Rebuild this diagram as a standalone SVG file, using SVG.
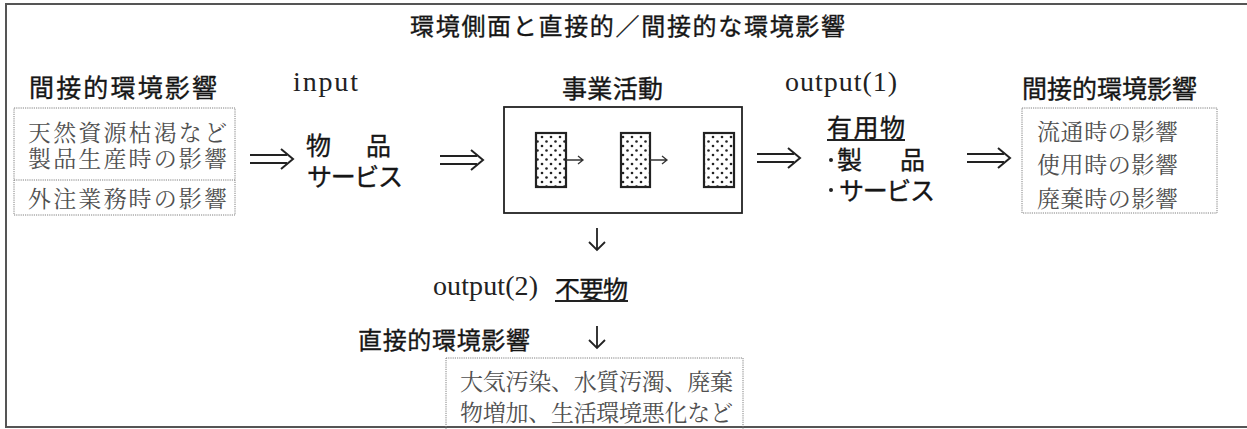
<svg xmlns="http://www.w3.org/2000/svg" width="1247" height="429" viewBox="0 0 1247 429">
<style>
.g{font-family:"Noto Sans CJK JP","Noto Sans CJK SC",sans-serif;fill:#161616;stroke:#161616;stroke-width:0.35;dominant-baseline:central}
.m{font-family:"Noto Serif CJK JP","Noto Sans CJK JP",serif;fill:#505050;dominant-baseline:central}
.s{font-family:"Liberation Serif",serif;fill:#222}
.dot{fill:none;stroke:#808080;stroke-width:1;stroke-dasharray:1.2 1}
.ln{fill:none;stroke:#222;stroke-width:1.8}
.thin{fill:none;stroke:#333;stroke-width:1.3}
.cell{fill:url(#dots);stroke:#222;stroke-width:2.2}
</style>
<defs>
<pattern id="dots" width="9" height="9" patternUnits="userSpaceOnUse">
<rect width="9" height="9" fill="#fff"/>
<circle cx="2" cy="2" r="1.3" fill="#222"/>
<circle cx="6.5" cy="6.5" r="1.3" fill="#222"/>
</pattern>
<path id="dbl" d="M0,-4 H37 M0,4 H37 M31,-10 L43,0 L31,10" fill="none" stroke="#222" stroke-width="2"/>
<path id="down" d="M0,0 V22 M-8,14 L0,22 L8,14" fill="none" stroke="#222" stroke-width="1.8"/>
</defs>
<rect x="6" y="4" width="1260" height="423" fill="none" stroke="#555" stroke-width="2"/>
<g id="title"><text class="g" x="410" y="24" font-size="24" textLength="435" lengthAdjust="spacing">環境側面と直接的／間接的な環境影響</text></g>
<g id="indirect-left">
<text class="g" x="29" y="86" font-size="25" textLength="188" lengthAdjust="spacing">間接的環境影響</text>
<rect class="dot" x="14" y="108" width="221" height="107"/>
<line class="dot" x1="14" y1="180" x2="235" y2="180"/>
<text class="m" x="28" y="131" font-size="23" textLength="199" lengthAdjust="spacing">天然資源枯渇など</text>
<text class="m" x="28" y="157" font-size="23" textLength="199" lengthAdjust="spacing">製品生産時の影響</text>
<text class="m" x="28" y="197" font-size="23" textLength="199" lengthAdjust="spacing">外注業務時の影響</text>
</g>
<g id="input">
<text class="s" x="293" y="91" font-size="28" textLength="65" lengthAdjust="spacing">input</text>
<text class="g" y="144" font-size="25"><tspan x="306">物</tspan><tspan x="366">品</tspan></text>
<text class="g" x="307" y="175" font-size="25" textLength="96" lengthAdjust="spacing">サービス</text>
</g>
<g id="business">
<text class="g" x="562" y="87" font-size="25" textLength="101" lengthAdjust="spacing">事業活動</text>
<rect x="504" y="107" width="238" height="106" fill="none" stroke="#222" stroke-width="1.8"/>
<rect class="cell" x="536" y="133" width="30" height="54"/>
<rect class="cell" x="621" y="133" width="29" height="54"/>
<rect class="cell" x="704" y="133" width="30" height="54"/>
</g>
<g id="output1">
<text class="s" x="785" y="91" font-size="28" textLength="112" lengthAdjust="spacing">output(1)</text>
<text class="g" x="827" y="126" font-size="25" textLength="78" lengthAdjust="spacing">有用物</text>
<line class="ln" x1="827" y1="140" x2="905" y2="140"/>
<circle cx="831" cy="160" r="2" fill="#222"/>
<text class="g" y="158" font-size="25"><tspan x="837">製</tspan><tspan x="900">品</tspan></text>
<circle cx="831" cy="190" r="2" fill="#222"/>
<text class="g" x="839" y="189" font-size="25" textLength="96" lengthAdjust="spacing">サービス</text>
</g>
<g id="indirect-right">
<text class="g" x="1022" y="87" font-size="25" textLength="175" lengthAdjust="spacing">間接的環境影響</text>
<rect class="dot" x="1022" y="108" width="195" height="105"/>
<text class="m" x="1037" y="130" font-size="23" textLength="141" lengthAdjust="spacing">流通時の影響</text>
<text class="m" x="1037" y="163" font-size="23" textLength="141" lengthAdjust="spacing">使用時の影響</text>
<text class="m" x="1037" y="197" font-size="23" textLength="141" lengthAdjust="spacing">廃棄時の影響</text>
</g>
<g id="output2">
<text class="s" x="433" y="295" font-size="28" textLength="105" lengthAdjust="spacing">output(2)</text>
<text class="g" x="555" y="288" font-size="25" textLength="73" lengthAdjust="spacing">不要物</text>
<line class="ln" x1="555" y1="301" x2="628" y2="301"/>
</g>
<g id="direct">
<text class="g" x="358" y="338" font-size="24" textLength="172" lengthAdjust="spacing">直接的環境影響</text>
<rect class="dot" x="446" y="358" width="297" height="72"/>
<text class="m" x="460" y="380" font-size="23" textLength="273" lengthAdjust="spacing">大気汚染、水質汚濁、廃棄</text>
<text class="m" x="460" y="411" font-size="23" textLength="273" lengthAdjust="spacing">物増加、生活環境悪化など</text>
</g>
<g id="connectors">
<use href="#dbl" x="250" y="159"/>
<use href="#dbl" x="440" y="160"/>
<use href="#dbl" x="757" y="158"/>
<use href="#dbl" x="967" y="158"/>
<path class="thin" d="M566,160 H583 M578,156 L583,160 L578,164"/>
<path class="thin" d="M650,160 H667 M662,156 L667,160 L662,164"/>
<use href="#down" x="597" y="228"/>
<use href="#down" x="597" y="326"/>
</g>
</svg>
